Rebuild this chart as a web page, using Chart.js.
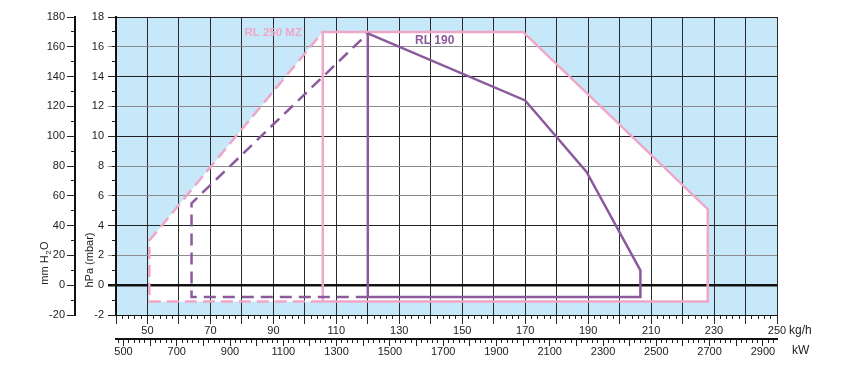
<!DOCTYPE html>
<html>
<head>
<meta charset="utf-8">
<script src="https://cdn.jsdelivr.net/npm/chart.js@4.4.1/dist/chart.umd.min.js"></script>
<style>
  body { margin: 0; background: #fff; }
  canvas { display: block; }
</style>
</head>
<body>
<canvas id="campoTrabajo" width="851" height="377"></canvas>
<script>
// campo de trabajo: caudal en kg/h, presion en hPa
const rl250X = [105.7, 105.7, 169.3, 228, 228, 105.7];
const rl250Y = [-1.1, 17, 17, 5.1, -1.1, -1.1];
const rl250TrazosX = [105.7, 50.6, 50.6, 105.7];
const rl250TrazosY = [-1.1, -1.1, 3.0, 17];

const rl190X = [120, 170, 189.5, 206.6, 206.6, 120, 120];
const rl190Y = [16.9, 12.4, 7.6, 1.0, -0.8, -0.8, 16.9];
const rl190TrazosX = [120, 64, 64, 120];
const rl190TrazosY = [-0.8, -0.8, 5.5, 16.9];

// etiquetas de los ejes
const kgEtiquetas = [50, 70, 90, 110, 130, 150, 170, 190, 210, 230, 250];
const kwEtiquetas = [500, 700, 900, 1100, 1300, 1500, 1700, 1900, 2100, 2300, 2500, 2700, 2900];
const hpaEtiquetas = [-2, 0, 2, 4, 6, 8, 10, 12, 14, 16, 18];
const mmEtiquetas = [-20, 0, 20, 40, 60, 80, 100, 120, 140, 160, 180];

const rosa = '#f0a6c8';
const morado = '#8c5a9c';
const celeste = '#c6e8f8';
const fuente = "'Liberation Sans', Arial, sans-serif";
const textoColor = '#222';

function puntos(xs, ys) {
    return xs.map(function(v, i) {
        return { x: v, y: ys[i] };
    });
}

function ancho(w) {
    return function(axis) {
        axis.width = w;
        axis.paddingTop = 0;
        axis.paddingBottom = 0;
    };
}

function alto(h) {
    return function(axis) {
        axis.height = h;
        axis.paddingLeft = 0;
        axis.paddingRight = 0;
    };
}

function ejeMenor(pos, min, max, paso, peso, tam) {
    return {
        type: 'linear',
        position: pos,
        min: min,
        max: max,
        weight: peso,
        ticks: { display: false, stepSize: paso, includeBounds: false },
        grid: { drawOnChartArea: false, tickLength: tam, color: '#222', lineWidth: 1 },
        border: { display: false },
        afterFit: pos === 'left' ? ancho(0) : alto(0)
    };
}

const grisesY = [16, 12, 8, 6, 2];

const fondo = {
    id: 'fondo',
    beforeDraw(chart) {
        const ctx = chart.ctx;
        const a = chart.chartArea;
        ctx.save();
        ctx.fillStyle = celeste;
        ctx.fillRect(a.left, a.top, a.right - a.left, a.bottom - a.top);
        // interior blanco del campo RL 250 MZ
        const trazos = chart.getDatasetMeta(3).data;
        const solido = chart.getDatasetMeta(2).data.slice(2, 5);
        const borde = trazos.concat(solido);
        ctx.beginPath();
        borde.forEach(function(p, i) {
            if (i === 0) ctx.moveTo(p.x, p.y); else ctx.lineTo(p.x, p.y);
        });
        ctx.closePath();
        ctx.fillStyle = '#fff';
        ctx.fill();
        ctx.restore();
    }
};

const textos = {
    id: 'textos',
    afterDraw(chart) {
        const ctx = chart.ctx;
        const sx = chart.scales.x;
        const sy = chart.scales.y;
        ctx.save();
        ctx.fillStyle = textoColor;
        ctx.textBaseline = 'middle';

        // titulo hPa
        ctx.save();
        ctx.translate(90, 260);
        ctx.rotate(-Math.PI / 2);
        ctx.textAlign = 'center';
        ctx.font = '11px ' + fuente;
        ctx.fillText('hPa (mbar)', 0, 0);
        ctx.restore();

        // titulo mm H2O con subindice
        ctx.save();
        ctx.translate(45, 263);
        ctx.rotate(-Math.PI / 2);
        ctx.textAlign = 'left';
        ctx.font = '11px ' + fuente;
        const w1 = ctx.measureText('mm H').width;
        const w3 = ctx.measureText('O').width;
        ctx.font = '8px ' + fuente;
        const w2 = ctx.measureText('2').width + 1;
        const inicio = -(w1 + w2 + w3) / 2;
        ctx.font = '11px ' + fuente;
        ctx.fillText('mm H', inicio, 0);
        ctx.font = '8px ' + fuente;
        ctx.fillText('2', inicio + w1 + 0.5, 4);
        ctx.font = '11px ' + fuente;
        ctx.fillText('O', inicio + w1 + w2, 0);
        ctx.restore();

        ctx.textAlign = 'left';
        ctx.font = '12px ' + fuente;
        ctx.fillText('kg/h', 789, 331);
        ctx.fillText('kW', 792, 351);

        ctx.font = 'bold 11.5px ' + fuente;
        ctx.fillStyle = rosa;
        ctx.fillText('RL 250 MZ', sx.getPixelForValue(80.8), sy.getPixelForValue(16.95));
        ctx.font = 'bold 12px ' + fuente;
        ctx.fillStyle = morado;
        ctx.fillText('RL 190', sx.getPixelForValue(135), sy.getPixelForValue(16.4));
        ctx.restore();
    }
};

function graficoCampo() {
    const grafico = document.getElementById('campoTrabajo').getContext('2d');
    const linea = { showLine: true, pointRadius: 0, borderWidth: 2.5, tension: 0, fill: false, borderJoinStyle: 'miter' };

    new Chart(grafico, {
        type: 'scatter',
        data: {
            datasets: [
                Object.assign({ label: 'RL 190', data: puntos(rl190X, rl190Y), borderColor: morado }, linea),
                Object.assign({ label: 'RL 190 (trazos)', data: puntos(rl190TrazosX, rl190TrazosY), borderColor: morado, borderDash: [12, 7] }, linea),
                Object.assign({ label: 'RL 250 MZ', data: puntos(rl250X, rl250Y), borderColor: rosa }, linea),
                Object.assign({ label: 'RL 250 MZ (trazos)', data: puntos(rl250TrazosX, rl250TrazosY), borderColor: rosa, borderDash: [12, 6] }, linea)
            ]
        },
        options: {
            responsive: false,
            animation: false,
            layout: { padding: { left: 0, right: 74, top: 17, bottom: 0 } },
            plugins: { legend: { display: false }, tooltip: { enabled: false } },
            scales: {
                x: {
                    type: 'linear',
                    position: 'bottom',
                    min: 40,
                    max: 250,
                    weight: 1,
                    ticks: {
                        stepSize: 10,
                        autoSkip: false,
                        maxRotation: 0,
                        padding: 0,
                        color: textoColor,
                        font: { family: fuente, size: 11 },
                        callback: function(v) { return kgEtiquetas.includes(v) ? v : ''; }
                    },
                    grid: { color: '#2a2a2a', lineWidth: 1, tickLength: 9 },
                    border: { color: '#111', width: 1 },
                    afterFit: alto(24)
                },
                xMenor: ejeMenor('bottom', 40, 250, 2, 0, 4),
                kw: {
                    type: 'linear',
                    position: 'bottom',
                    min: 472,
                    max: 2953,
                    weight: 3,
                    ticks: {
                        stepSize: 100,
                        includeBounds: false,
                        autoSkip: false,
                        maxRotation: 0,
                        padding: -1,
                        color: textoColor,
                        font: { family: fuente, size: 11 },
                        callback: function(v) { return kwEtiquetas.includes(v) ? v : ''; }
                    },
                    grid: { drawOnChartArea: false, color: '#222', lineWidth: 1, tickLength: 7 },
                    border: { color: '#111', width: 2 },
                    afterFit: alto(38)
                },
                kwMenor: ejeMenor('bottom', 472, 2953, 20, 2, 4),
                y: {
                    type: 'linear',
                    position: 'left',
                    min: -2,
                    max: 18,
                    weight: 1,
                    ticks: {
                        stepSize: 2,
                        autoSkip: false,
                        padding: 4,
                        color: textoColor,
                        font: { family: fuente, size: 11 },
                        callback: function(v) { return hpaEtiquetas.includes(v) ? v : ''; }
                    },
                    grid: {
                        tickLength: 8,
                        color: function(c) {
                            const v = c.tick ? c.tick.value : 1;
                            if (v === 0) return '#111';
                            return grisesY.includes(v) ? '#8c8c8c' : '#222';
                        },
                        lineWidth: function(c) {
                            return c.tick && c.tick.value === 0 ? 2.5 : 1;
                        }
                    },
                    border: { color: '#111', width: 2 },
                    afterFit: ancho(41)
                },
                yMenor: ejeMenor('left', -2, 18, 1, 0, 4),
                mm: {
                    type: 'linear',
                    position: 'left',
                    min: -20,
                    max: 180,
                    weight: 3,
                    ticks: {
                        stepSize: 20,
                        autoSkip: false,
                        padding: 2,
                        color: textoColor,
                        font: { family: fuente, size: 11 },
                        callback: function(v) { return mmEtiquetas.includes(v) ? v : ''; }
                    },
                    grid: { drawOnChartArea: false, color: '#222', lineWidth: 1, tickLength: 8 },
                    border: { color: '#111', width: 2 },
                    afterFit: ancho(75)
                },
                mmMenor: ejeMenor('left', -20, 180, 10, 2, 4)
            }
        },
        plugins: [fondo, textos]
    });
}

graficoCampo();
</script>
</body>
</html>
